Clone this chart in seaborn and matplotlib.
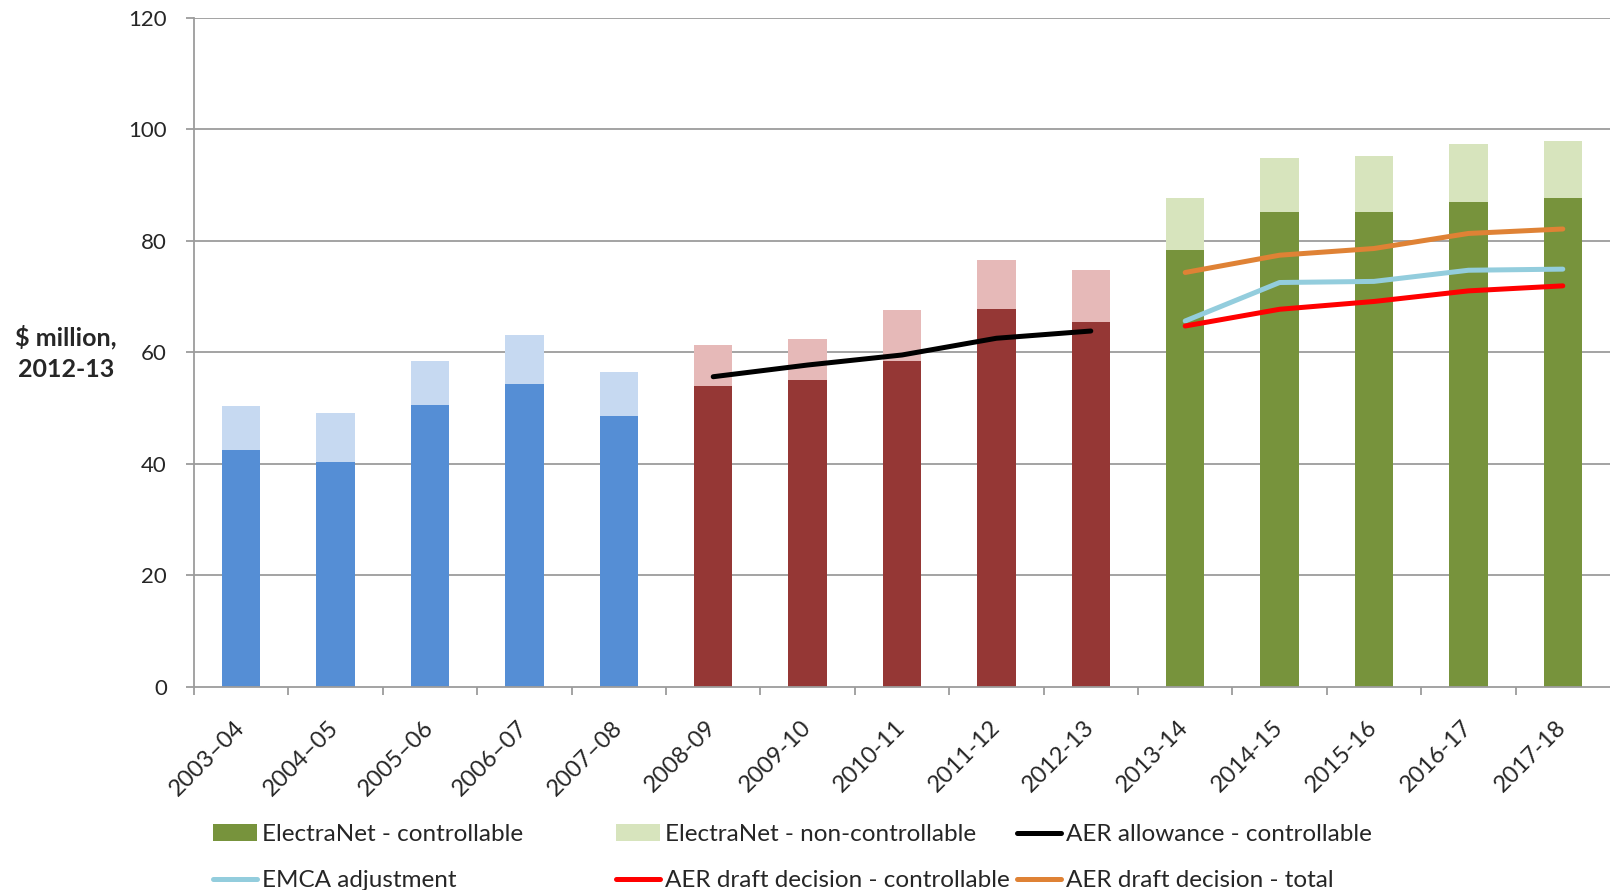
import matplotlib
matplotlib.use("Agg")
import matplotlib.pyplot as plt
import matplotlib.transforms as mtransforms
import seaborn as sns
import numpy as np
import pandas as pd
from matplotlib.patches import Patch
from matplotlib.lines import Line2D

# ---------------- data ----------------
categories = ['2003–04', '2004–05', '2005–06', '2006–07', '2007–08',
              '2008-09', '2009-10', '2010-11', '2011-12', '2012-13',
              '2013-14', '2014-15', '2015-16', '2016-17', '2017-18']
period = ['past'] * 5 + ['current'] * 5 + ['forecast'] * 5
controllable = [42.5, 40.3, 50.5, 54.3, 48.6,
                53.9, 55.0, 58.4, 67.7, 65.4,
                78.3, 85.1, 85.1, 87.0, 87.6]
non_controllable = [7.8, 8.8, 7.9, 8.8, 7.8,
                    7.4, 7.3, 9.1, 8.8, 9.3,
                    9.3, 9.7, 10.1, 10.3, 10.3]

allowance_years = ['2008-09', '2009-10', '2010-11', '2011-12', '2012-13']
aer_allowance = [55.6, 57.7, 59.5, 62.5, 63.8]

forecast_years = ['2013-14', '2014-15', '2015-16', '2016-17', '2017-18']
emca_adjustment = [65.6, 72.5, 72.7, 74.7, 74.9]
draft_controllable = [64.7, 67.7, 69.1, 71.0, 71.9]
draft_total = [74.3, 77.4, 78.6, 81.3, 82.1]

yticks = [0, 20, 40, 60, 80, 100, 120]

# ---------------- style ----------------
dark_colors = {'past': '#558ED5', 'current': '#953735', 'forecast': '#77933C'}
light_colors = {'past': '#C6D9F1', 'current': '#E6B9B8', 'forecast': '#D7E4BD'}
c_black, c_emca, c_red, c_orange = '#000000', '#93CDDD', '#FF0000', '#DF8235'
grid_c = '#9C9C9C'

sns.set_style('white')
plt.rcParams['font.family'] = ['Lato', 'DejaVu Sans']

W, H = 1610, 890
fig = plt.figure(figsize=(W / 100, H / 100), dpi=100)
ax_left, ax_bottom_px, ax_top_px = 194.0, 686.7, 17.7
ax = fig.add_axes([ax_left / W, 1 - ax_bottom_px / H, 1 - ax_left / W,
                   (ax_bottom_px - ax_top_px) / H])

df = pd.DataFrame({'year': categories, 'period': period,
                   'controllable': controllable,
                   'non_controllable': non_controllable})
df['total'] = df['controllable'] + df['non_controllable']

hue_order = ['past', 'current', 'forecast']
bar_w = 0.405
sns.barplot(data=df, x='year', y='total', hue='period', hue_order=hue_order,
            order=categories, palette=light_colors, dodge=False, width=bar_w,
            saturation=1, linewidth=0, legend=False, ax=ax, zorder=2)
sns.barplot(data=df, x='year', y='controllable', hue='period', hue_order=hue_order,
            order=categories, palette=dark_colors, dodge=False, width=bar_w,
            saturation=1, linewidth=0, legend=False, ax=ax, zorder=2)

pos = {c: i for i, c in enumerate(categories)}
lw = 3.6
def draw_line(years, vals, color):
    sns.lineplot(x=[pos[y] for y in years], y=vals, color=color, linewidth=lw,
                 ax=ax, zorder=4, solid_capstyle='round', sort=False)

draw_line(allowance_years, aer_allowance, c_black)
draw_line(forecast_years, draft_total, c_orange)
draw_line(forecast_years, emca_adjustment, c_emca)
draw_line(forecast_years, draft_controllable, c_red)

# ---------------- axes ----------------
ax.set_xlim(-0.5, 14.5)
ax.set_ylim(0, 120)
ax.set_yticks(yticks)
ax.set_yticklabels([str(t) for t in yticks], fontsize=16)
for t in yticks[1:]:
    ax.axhline(t, color=grid_c, lw=1.3, zorder=1)
ax.set_xlabel('')
ax.set_ylabel('')

ax.set_xticks(range(len(categories)))
ax.set_xticklabels(categories, rotation=45, ha='right', va='center',
                   rotation_mode='anchor', fontsize=17)
offset = mtransforms.ScaledTranslation(5 / 100, 0, fig.dpi_scale_trans)
for lab in ax.get_xticklabels():
    lab.set_transform(lab.get_transform() + offset)
ax.set_xticks(np.arange(-0.5, 14.5, 1.0), minor=True)
ax.tick_params(axis='x', which='major', length=0, pad=27)
ax.tick_params(axis='x', which='minor', length=6, width=1.3, color=grid_c,
               direction='out', bottom=True)
ax.tick_params(axis='y', length=5.5, width=1.3, color=grid_c, direction='out',
               left=True, pad=14)

for s in ['top', 'right']:
    ax.spines[s].set_visible(False)
for s in ['left', 'bottom']:
    ax.spines[s].set_color(grid_c)
    ax.spines[s].set_linewidth(1.3)
    ax.spines[s].set_zorder(3)

fig.text(66 / W, 1 - 353 / H, '\\$ million,\n2012-13', ha='center', va='center',
         fontsize=18, fontweight='bold', linespacing=1.45)

# ---------------- legend ----------------
legend_items = [
    [(Patch(facecolor=dark_colors['forecast'], edgecolor='none'), 'ElectraNet - controllable'),
     (Line2D([], [], color=c_emca, lw=lw, solid_capstyle='round'), 'EMCA adjustment')],
    [(Patch(facecolor=light_colors['forecast'], edgecolor='none'), 'ElectraNet - non-controllable'),
     (Line2D([], [], color=c_red, lw=lw, solid_capstyle='round'), 'AER draft decision - controllable')],
    [(Line2D([], [], color=c_black, lw=lw, solid_capstyle='round'), 'AER allowance - controllable'),
     (Line2D([], [], color=c_orange, lw=lw, solid_capstyle='round'), 'AER draft decision - total')],
]
col_x = [213, 616, 1017]
for x, items in zip(col_x, legend_items):
    fig.legend([h for h, _ in items], [l for _, l in items],
               loc='upper left', bbox_to_anchor=(x / W, 1 - 824 / H),
               frameon=False, fontsize=17.5, borderpad=0, borderaxespad=0,
               handlelength=1.8, handleheight=0.7, handletextpad=0.2,
               labelspacing=1.04)

fig.savefig('out.png', dpi=100)
